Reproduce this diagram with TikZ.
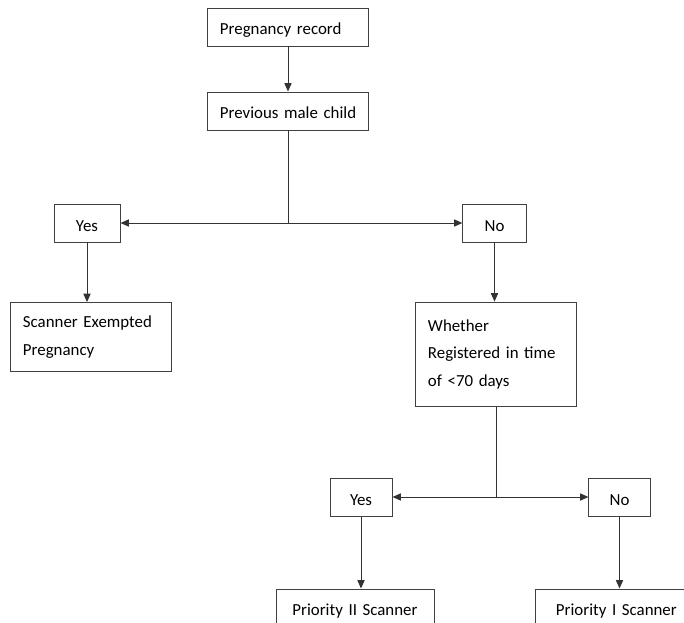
\documentclass[tikz,border=0pt]{standalone}
\usepackage{fontspec}
\setmainfont{Carlito}
\usetikzlibrary{arrows.meta}

\begin{document}
\begin{tikzpicture}[x=0.025cm,y=-0.025cm,
  box/.style={draw=black!75,line width=0.7pt,rectangle,inner sep=0pt,
    font=\fontsize{12}{19.8}\selectfont},
  single/.style={box,text height=0.45cm,text depth=0.05cm},
  txtbox/.style={box,align=left},
  arr/.style={draw=black!80,line width=0.7pt,-{Triangle[length=2.1mm,width=1.8mm]}},
  ln/.style={draw=black!80,line width=0.7pt}]
\useasboundingbox (0,0) rectangle (684,623);
\clip (0,0) rectangle (684,623);

\node[single,align=left,text width=3.4cm,inner xsep=0.3cm,minimum height=0.95cm] (rec) at (288,27) {\mbox{Pregnancy record}};
\node[single,align=left,text width=3.4cm,inner xsep=0.3cm,minimum height=0.95cm] (prev) at (288,111) {\mbox{Previous male child}};
\node[single,minimum width=1.65cm,minimum height=0.95cm] (yesa) at (87,223) {Yes};
\node[single,minimum width=1.58cm,minimum height=0.95cm] (noa) at (494.5,223) {No};
\node[txtbox,text width=3.4cm,inner xsep=0.3cm,minimum height=1.72cm] (exempt) at (91,337) {Scanner Exempted\\Pregnancy};
\node[txtbox,text width=3.4cm,inner xsep=0.3cm,minimum height=2.62cm] (reg) at (496,354.5) {Whether\\Registered in time\\of <70 days};
\node[single,minimum width=1.55cm,minimum height=0.95cm] (yesb) at (361,497) {Yes};
\node[single,minimum width=1.53cm,minimum height=0.95cm] (nob) at (619.5,497) {No};
\node[txtbox,text width=3.15cm,inner xsep=0.39cm,minimum height=1.1cm] (prib) at (355.5,611) {\mbox{Priority II Scanner}};
\node[txtbox,text width=3.1cm,inner xsep=0.5cm,minimum height=1.1cm] (pria) at (618,611) {\mbox{Priority I Scanner}};

\coordinate (ja) at (prev.south |- yesa.east);
\coordinate (jb) at (reg.south |- yesb.east);

\draw[arr] (rec) -- (prev);
\draw[ln] (prev.south) -- (ja);
\draw[arr] (ja) -- (yesa.east);
\draw[arr] (ja) -- (noa.west);
\draw[arr] (yesa.south) -- (yesa.south |- exempt.north);
\draw[arr] (noa.south) -- (noa.south |- reg.north);
\draw[ln] (reg.south) -- (jb);
\draw[arr] (jb) -- (yesb.east);
\draw[arr] (jb) -- (nob.west);
\draw[arr] (yesb.south) -- (yesb.south |- prib.north);
\draw[arr] (nob.south) -- (nob.south |- pria.north);
\end{tikzpicture}
\end{document}
